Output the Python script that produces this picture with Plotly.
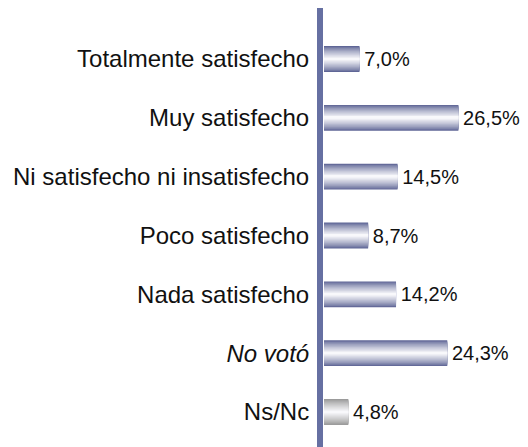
import plotly.graph_objects as go

categories = ["Totalmente satisfecho", "Muy satisfecho", "Ni satisfecho ni insatisfecho",
              "Poco satisfecho", "Nada satisfecho", "No votó", "Ns/Nc"]
tick_labels = ["Totalmente satisfecho", "Muy satisfecho", "Ni satisfecho ni insatisfecho",
               "Poco satisfecho", "Nada satisfecho", "<i>No votó</i>", "Ns/Nc"]
values = [7.0, 26.5, 14.5, 8.7, 14.2, 24.3, 4.8]
value_labels = ["7,0%", "26,5%", "14,5%", "8,7%", "14,2%", "24,3%", "4,8%"]

blue_edge = (95, 102, 150)
grey_edge = (150, 150, 150)
light = (248, 248, 251)

def mix(c1, c2, t):
    return "rgb(%d,%d,%d)" % tuple(round(a + (b - a) * t) for a, b in zip(c1, c2))

fig = go.Figure()
n_layers = 14
full_w = 0.44
for k in range(n_layers):
    t = (k / (n_layers - 1)) ** 0.8
    w = full_w * (1 - k / n_layers)
    colors = [mix(grey_edge if c == "Ns/Nc" else blue_edge, light, t) for c in categories]
    fig.add_trace(go.Bar(
        x=values, y=categories, orientation="h", width=w,
        marker=dict(color=colors, line=dict(width=0)),
        text=["\u200a" + s for s in value_labels] if k == 0 else None,
        textposition="outside" if k == 0 else "none",
        textfont=dict(family="Liberation Sans, Arial", size=20, color="#111111"),
        cliponaxis=False, hoverinfo="skip", showlegend=False,
    ))

fig.update_layout(
    width=528, height=447,
    margin=dict(l=315, r=0, t=0, b=0),
    barmode="overlay",
    plot_bgcolor="white", paper_bgcolor="white",
    xaxis=dict(range=[-0.2, 41.8], visible=False),
    yaxis=dict(
        type="category", categoryorder="array", categoryarray=categories,
        tickvals=categories, ticktext=tick_labels,
        range=[6.731, -0.867],
        showline=True, linecolor="#6670a2", linewidth=6,
        showgrid=False, zeroline=False,
        ticks="", ticklabelstandoff=3,
        tickfont=dict(family="Liberation Sans, Arial", size=24, color="#111111"),
    ),
)

fig.write_html("out.html")
